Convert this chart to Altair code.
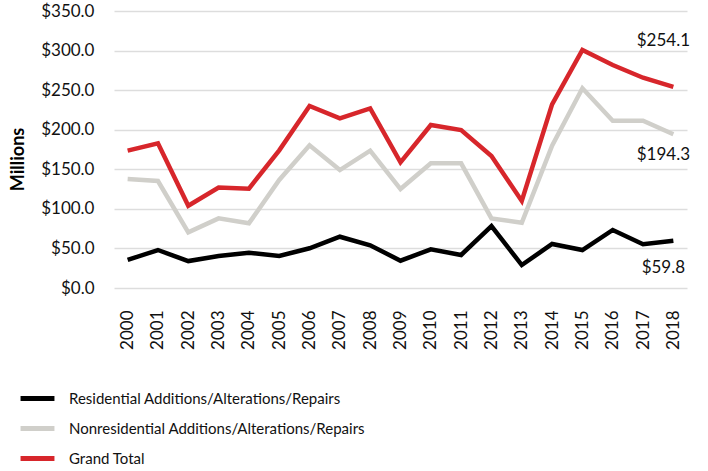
import altair as alt
import pandas as pd

years = [str(y) for y in range(2000, 2019)]
residential = [35.4, 48.0, 34.0, 40.4, 44.6, 40.4, 50.2, 64.8, 54.0, 34.5, 48.9, 41.7, 78.3, 29.0, 55.6, 48.0, 73.3, 55.2, 59.8]
nonresidential = [137.7, 135.2, 70.4, 88.0, 81.7, 136.5, 180.3, 149.0, 173.5, 125.0, 157.5, 157.5, 88.0, 82.5, 179.8, 252.3, 211.4, 211.4, 194.3]
grand_total = [173.5, 182.8, 104.0, 127.0, 125.5, 174.0, 230.0, 214.4, 227.0, 158.8, 206.0, 199.6, 166.8, 110.0, 232.0, 300.7, 281.8, 265.7, 254.1]

series_names = [
    "Residential Additions/Alterations/Repairs",
    "Nonresidential Additions/Alterations/Repairs",
    "Grand Total",
]
series_colors = ["#000000", "#d0cfca", "#d7262b"]
y_ticks = [0, 50, 100, 150, 200, 250, 300, 350]

rows = []
for name, vals in zip(series_names, [residential, nonresidential, grand_total]):
    for i, (y, v) in enumerate(zip(years, vals)):
        rows.append({"year": y, "value": v, "series": name, "order": series_names.index(name)})
df = pd.DataFrame(rows)

labels_df = pd.DataFrame({
    "year": ["2018", "2018", "2018"],
    "value": [grand_total[-1], nonresidential[-1], residential[-1]],
    "text": ["$254.1", "$194.3", "$59.8"],
    "dy": [-46, 21, 27],
})

FONT = "Lato"

x = alt.X("year:O", scale=alt.Scale(type="point", padding=0.45),
          axis=alt.Axis(title=None, labelAngle=270, labelFontSize=17, labelFont=FONT,
                        labelColor="#111", ticks=False, domain=False, grid=False,
                        labelPadding=22, labelBaseline="middle", labelAlign="right",
                        labelOverlap=False))
y = alt.Y("value:Q", scale=alt.Scale(domain=[0, 350], nice=False),
          axis=alt.Axis(title="Millions", values=y_ticks, tickCount=8,
                        format="$.1f", labelFontSize=17, labelFont=FONT, labelColor="#111",
                        titleFont=FONT, titleFontSize=18, titleFontWeight="bold", titleColor="#000",
                        ticks=False, domain=False, grid=True, gridColor="#dddddd", gridWidth=1.5,
                        labelPadding=20, titlePadding=13, titleY=148, labelOverlap=False))

lines = alt.Chart(df).mark_line(strokeWidth=4.5, strokeJoin="miter").encode(
    x=x, y=y,
    color=alt.Color("series:N", scale=alt.Scale(domain=series_names, range=series_colors),
                    legend=alt.Legend(title=None, orient="none", legendX=-96, legendY=368,
                                      direction="vertical", symbolType="stroke",
                                      symbolStrokeWidth=5, symbolSize=1150,
                                      labelFontSize=15, labelFont=FONT, labelColor="#111",
                                      labelLimit=0, rowPadding=0, labelOffset=12)),
    order="order:Q",
)

texts = []
for i in range(3):
    t = alt.Chart(labels_df.iloc[[i]]).mark_text(
        fontSize=17, font=FONT, color="#111", dx=-10, dy=int(labels_df["dy"][i]), align="center"
    ).encode(x=x, y=y, text="text:N")
    texts.append(t)

chart = alt.layer(lines, *texts).properties(
    width=573, height=277,
    padding={"left": 114, "top": 11, "right": 21, "bottom": 183},
    autosize=alt.AutoSizeParams(type="none"),
).configure_view(stroke=None)

chart.save("out.html", embed_options={"renderer": "svg", "actions": False})
